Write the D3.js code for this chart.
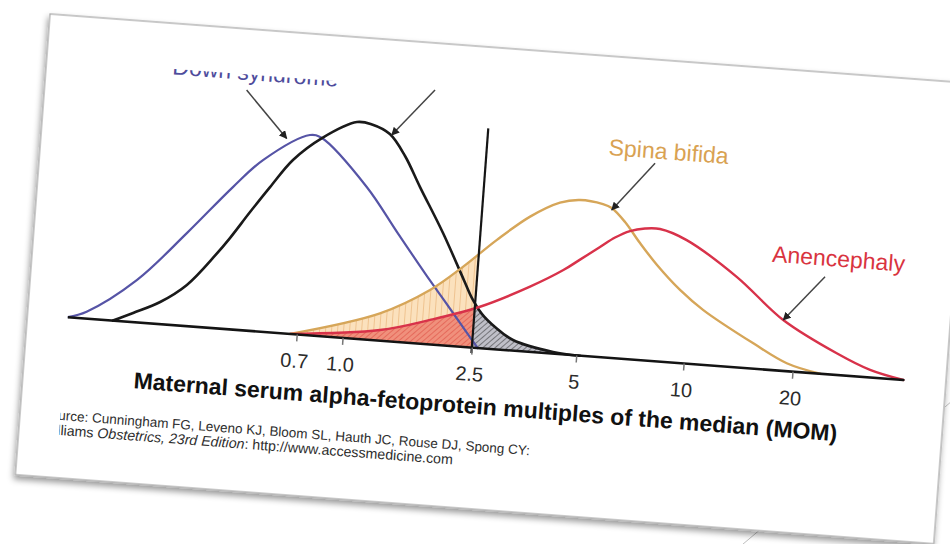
<!DOCTYPE html>
<html><head><meta charset="utf-8">
<script src="https://cdn.jsdelivr.net/npm/d3@7"></script>
<style>html,body{margin:0;padding:0;background:#fff;} svg{display:block;font-family:"Liberation Sans",Arial,Helvetica,sans-serif;}</style>
</head><body>
<svg id="c" width="950" height="544"></svg>
<script>
// ---------- data (MOM on x, relative frequency on y, unaffected peak = 100) ----------
const tickValues = [0.7, 1.0, 2.5, 5, 10, 20];
const tickLabels = ["0.7", "1.0", "2.5", "5", "10", "20"];
const cutoff = 2.5;
const cutoffTop = 101.6;
const axisExtent = [0.014, 40.3];

const downX = [0.014, 0.04, 0.124, 0.233, 0.364, 0.472, 0.69, 0.76, 1.1, 1.41, 1.81, 2.02, 2.3, 2.6];
const downY = [0, 3.2, 19.6, 43.0, 65.7, 79.2, 92.4, 91.4, 70.4, 50.3, 29.7, 20.9, 10.2, 0];

const unaffX = [0.084, 0.121, 0.178, 0.243, 0.322, 0.367, 0.435, 0.511, 0.61, 0.761, 0.986, 1.105, 1.265, 1.427, 1.613, 1.938, 2.291, 2.441, 2.633, 2.891, 3.279, 4.291, 5.12];
const unaffY = [0, 4.2, 10.2, 19.0, 33.7, 42.1, 54.8, 67.0, 80.3, 91.4, 100, 99.4, 95.6, 86.0, 72.2, 51.8, 30.8, 22.8, 15.8, 10.3, 4.9, 0.8, 0];

const spinaX = [0.663, 1.298, 1.825, 2.264, 2.797, 3.453, 4.174, 4.748, 5.524, 5.856, 6.423, 7.144, 8.05, 9.436, 11.05, 15.41, 19.21, 23.8];
const spinaY = [0, 12.6, 25.1, 37.0, 50.4, 62.4, 69.9, 71.8, 70.7, 69.2, 63.2, 54.0, 44.5, 33.8, 25.3, 11.7, 3.7, 0];

const anenX = [0.663, 1.31, 1.853, 2.587, 3.573, 4.41, 4.89, 5.532, 6.068, 6.66, 7.326, 8.066, 9.612, 13.44, 18.41, 26.19, 32.55, 40.29];
const anenY = [0, 4.9, 11.3, 19.1, 30.1, 38.9, 44.3, 50.8, 55.7, 59.2, 60.9, 61.2, 57.0, 41.8, 23.5, 10.0, 3.5, 0];

// annotations: label text, label anchor [MOM, y], arrow from [MOM,y] to [MOM,y]
const labelNames = ["Down syndrome", "Spina bifida", "Anencephaly"];
const labelPos = [[0.166, 115.6], [5.58, 93.5], [16.66, 50.0]];
const arrowFrom = [[0.387, 110.9], [1.702, 117.5], [7.57, 91.3], [23.47, 44.9]];
const arrowTo = [[0.571, 90.0], [1.282, 95.2], [5.86, 68.3], [18.41, 23.5]];

const axisTitle = "Maternal serum alpha-fetoprotein multiples of the median (MOM)";
const sourceLine1 = "Source: Cunningham FG, Leveno KJ, Bloom SL, Hauth JC, Rouse DJ, Spong CY:";
const sourceLine2a = "Williams ";
const sourceLine2b = "Obstetrics, 23rd Edition";
const sourceLine2c = ": http://www.accessmedicine.com";

// ---------- styles ----------
const C = {
  down: "#5654a6", unaff: "#1a1a1a", spina: "#d6a659", anen: "#d8324a",
  downText: "#4e4c9c", spinaText: "#d9a252", anenText: "#d9343f", arrow: "#444"
};

const svg = d3.select("#c");
const defs = svg.append("defs");

// shadow
const f = defs.append("filter").attr("id", "shadow").attr("x", "-5%").attr("y", "-5%").attr("width", "110%").attr("height", "115%");
f.append("feDropShadow").attr("dx", -1).attr("dy", 4).attr("stdDeviation", 3).attr("flood-color", "#000").attr("flood-opacity", 0.4);

// patterns
function hatch(id, bg, stroke, w, size, angle, op) {
  const p = defs.append("pattern").attr("id", id).attr("patternUnits", "userSpaceOnUse")
    .attr("width", size).attr("height", size).attr("patternTransform", `rotate(${angle})`);
  p.append("rect").attr("width", size).attr("height", size).attr("fill", bg);
  p.append("line").attr("x1", 0).attr("y1", 0).attr("x2", 0).attr("y2", size)
    .attr("stroke", stroke).attr("stroke-width", w).attr("stroke-opacity", op);
}
hatch("patSpina", "#fbe1bd", "#e0a25e", 1, 6, 0, 0.95);
hatch("patAnen", "#f0907c", "#d9443a", 1.2, 4, 45, 0.85);
hatch("patUnaff", "#bfbfc8", "#262626", 1.1, 4, 45, 0.9);

// decorative slide lines
svg.append("line").attr("x1", 736).attr("y1", 550).attr("x2", 762).attr("y2", 528).attr("stroke", "#bdbdbd").attr("stroke-width", 1);
svg.append("line").attr("x1", 945).attr("y1", 407).attr("x2", 960).attr("y2", 394).attr("stroke", "#bdbdbd").attr("stroke-width", 1);

// rotated paper
const paper = svg.append("g").attr("transform", "rotate(4.3,50,14)");
paper.append("rect").attr("x", 50).attr("y", 14).attr("width", 921).attr("height", 462)
  .attr("fill", "#fff").attr("stroke", "#adadad").attr("stroke-width", 1.3).attr("filter", "url(#shadow)");

defs.append("clipPath").attr("id", "imgClip").append("rect").attr("x", 90.5).attr("y", 59.5).attr("width", 875).attr("height", 412);

const g = paper.append("g").attr("clip-path", "url(#imgClip)");

// scales
const x = d3.scaleSymlog().constant(0.2).domain([0, 40.3]).range([79.7, 928.4]);
const y = d3.scaleLinear().domain([0, 100]).range([315, 98.7]);

const zip = (xs, ys) => xs.map((v, i) => [v, ys[i]]);
const down = zip(downX, downY), unaff = zip(unaffX, unaffY), spina = zip(spinaX, spinaY), anen = zip(anenX, anenY);

const curve = d3.curveCatmullRom.alpha(0.5);
const line = d3.line().x(d => x(d[0])).y(d => y(d[1])).curve(curve);
const area = d3.area().x(d => x(d[0])).y0(y(0)).y1(d => y(d[1])).curve(curve);

// clip rects for left/right of cutoff
defs.append("clipPath").attr("id", "leftCut").append("rect")
  .attr("x", x(0)).attr("y", y(110)).attr("width", x(cutoff) - x(0)).attr("height", y(0) - y(110));
defs.append("clipPath").attr("id", "rightCut").append("rect")
  .attr("x", x(cutoff)).attr("y", y(110)).attr("width", x(40.3) - x(cutoff)).attr("height", y(0) - y(110));

g.append("path").datum(spina).attr("d", area).attr("fill", "url(#patSpina)").attr("clip-path", "url(#leftCut)");
g.append("path").datum(anen).attr("d", area).attr("fill", "url(#patAnen)").attr("clip-path", "url(#leftCut)");
g.append("path").datum(unaff).attr("d", area).attr("fill", "url(#patUnaff)").attr("clip-path", "url(#rightCut)");

// curves
const series = [[down, C.down, 2.2], [unaff, C.unaff, 2.6], [spina, C.spina, 2.4], [anen, C.anen, 2.4]];
series.forEach(([d, col, w]) => {
  g.append("path").datum(d).attr("d", line).attr("fill", "none").attr("stroke", col).attr("stroke-width", w)
    .attr("stroke-linejoin", "round").attr("stroke-linecap", "round");
});

// cutoff line
g.append("line").attr("x1", x(cutoff)).attr("x2", x(cutoff)).attr("y1", y(-2.5)).attr("y2", y(cutoffTop))
  .attr("stroke", "#151515").attr("stroke-width", 2.2);

// baseline axis
g.append("line").attr("x1", x(axisExtent[0])).attr("x2", x(axisExtent[1])).attr("y1", y(0)).attr("y2", y(0))
  .attr("stroke", "#141414").attr("stroke-width", 2.6).attr("stroke-linecap", "round");

// ticks
const axisG = g.append("g").attr("transform", `translate(0,${y(0)})`);
const ax = d3.axisBottom(x).tickValues(tickValues).tickFormat((d, i) => tickLabels[i]).tickSize(7).tickPadding(14);
axisG.call(ax);
axisG.select(".domain").remove();
axisG.selectAll(".tick line").attr("stroke", "#777").attr("stroke-width", 1.5);
axisG.selectAll(".tick text").attr("font-size", 20).attr("fill", "#2b2b2b")
  .attr("font-family", '"Liberation Sans",Arial,sans-serif').attr("dx", -1).attr("dy", "0.62em");

// axis title
g.append("text").attr("x", 161).attr("y", 381).attr("font-size", 23).attr("font-weight", "bold")
  .attr("fill", "#111").text(axisTitle);

// source
g.append("text").attr("x", 72).attr("y", 418).attr("font-size", 13.5).attr("fill", "#2e2e2e").text(sourceLine1);
const s2 = g.append("text").attr("x", 72).attr("y", 433).attr("font-size", 14.2).attr("fill", "#2e2e2e");
s2.append("tspan").text(sourceLine2a);
s2.append("tspan").attr("font-style", "italic").text(sourceLine2b);
s2.append("tspan").text(sourceLine2c);

// labels
const labelCols = [C.downText, C.spinaText, C.anenText];
labelNames.forEach((t, i) => {
  g.append("text").attr("x", x(labelPos[i][0])).attr("y", y(labelPos[i][1])).attr("font-size", 23)
    .attr("fill", labelCols[i]).text(t);
});

// arrows
defs.append("marker").attr("id", "arr").attr("viewBox", "0 0 10 10").attr("refX", 9).attr("refY", 5)
  .attr("markerWidth", 5.5).attr("markerHeight", 5.5).attr("orient", "auto")
  .append("path").attr("d", "M0,0 L10,5 L0,10 Z").attr("fill", "#222");
arrowFrom.forEach((a, i) => {
  const b = arrowTo[i];
  g.append("line").attr("x1", x(a[0])).attr("y1", y(a[1])).attr("x2", x(b[0])).attr("y2", y(b[1]))
    .attr("stroke", C.arrow).attr("stroke-width", 1.5).attr("marker-end", "url(#arr)");
});
</script>
</body></html>
